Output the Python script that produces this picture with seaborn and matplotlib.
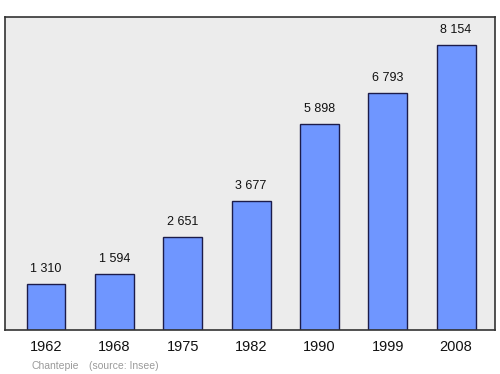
import matplotlib
matplotlib.use("Agg")
import matplotlib.pyplot as plt
import seaborn as sns
import pandas as pd

years = ["1962", "1968", "1975", "1982", "1990", "1999", "2008"]
population = [1310, 1594, 2651, 3677, 5898, 6793, 8154]
labels = ["1 310", "1 594", "2 651", "3 677", "5 898", "6 793", "8 154"]

sns.set_theme(style="white")
plt.rcParams['font.family'] = ['Liberation Sans', 'DejaVu Sans']

df = pd.DataFrame({"year": years, "pop": population})

fig = plt.figure(figsize=(5, 3.74), dpi=100)
ax = fig.add_axes([0.01, 0.1176, 0.98, 0.837])
ax.set_facecolor("#ececec")

sns.barplot(data=df, x="year", y="pop", color="#6f96ff", saturation=1,
            edgecolor="#1c1c4a", linewidth=1.0, width=0.57, ax=ax)

ax.set_xlim(-0.6, 6.57)
ax.set_ylim(0, 8955)
ax.set_yticks([])
ax.set_xlabel("")
ax.set_ylabel("")
ax.tick_params(axis="x", length=0, pad=7.5, labelsize=10.5, colors="#111111")

for i, (v, t) in enumerate(zip(population, labels)):
    ax.annotate(t, (i, v), xytext=(0, 6.5), textcoords="offset points",
                ha="center", va="bottom", fontsize=9, color="#111111")

for s in ax.spines.values():
    s.set_visible(True)
    s.set_color("#333333")
    s.set_linewidth(1.2)

fig.text(0.062, 0.014, "Chantepie", fontsize=7.5, color="#9a9a9a")
fig.text(0.178, 0.014, "(source: Insee)", fontsize=7.5, color="#9a9a9a")

fig.savefig("out.png", dpi=100)
